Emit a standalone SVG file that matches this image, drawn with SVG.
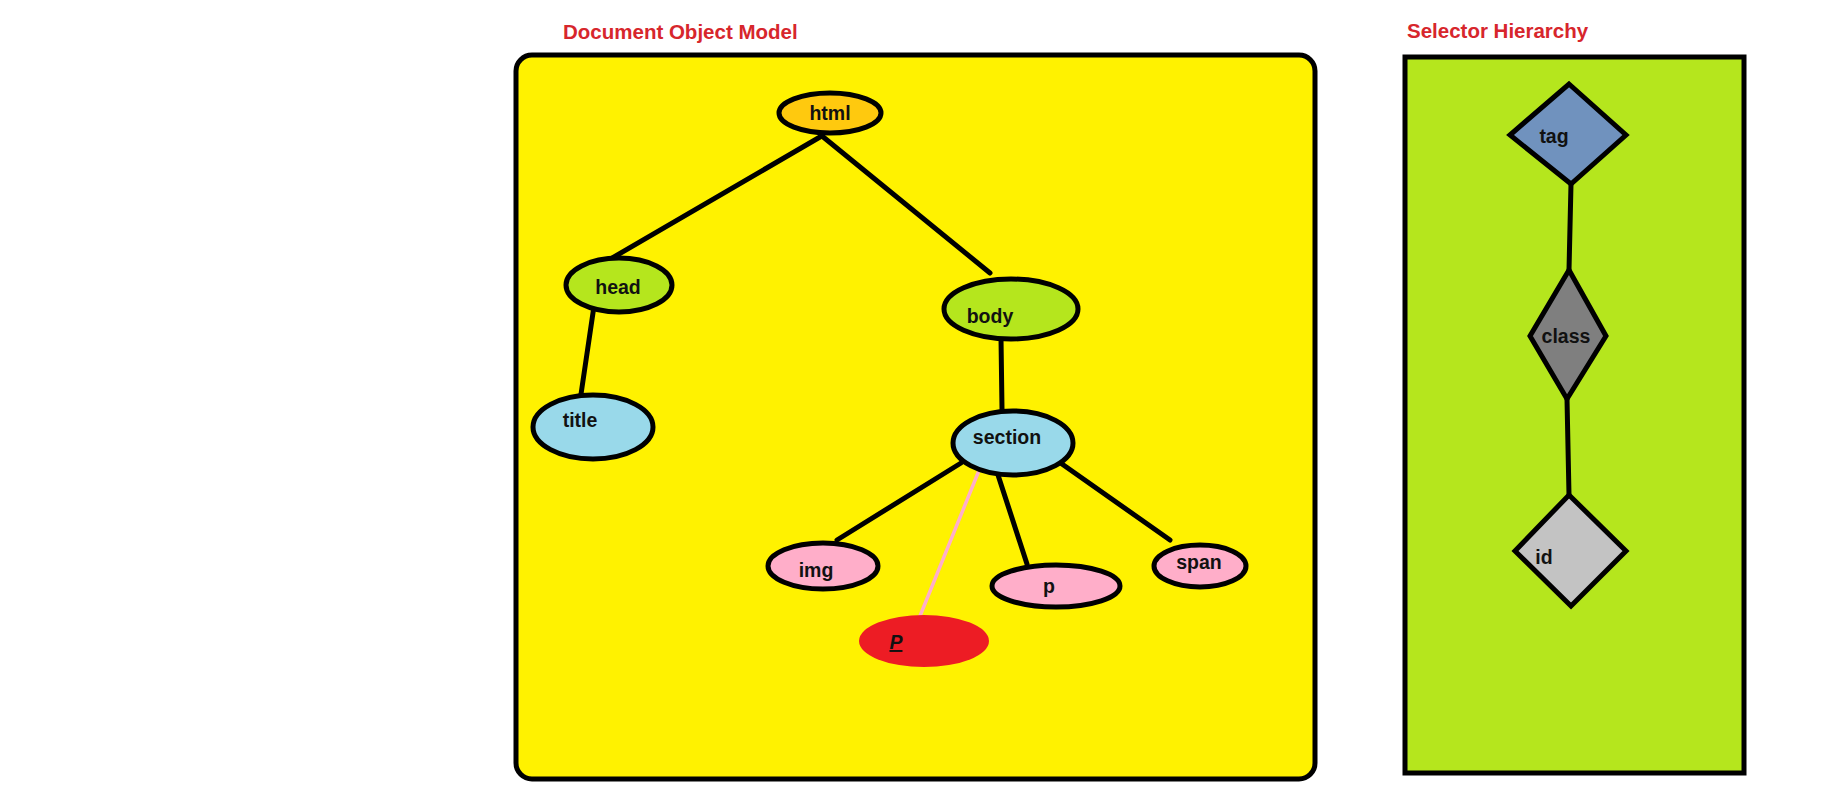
<svg xmlns="http://www.w3.org/2000/svg" width="1834" height="812" viewBox="0 0 1834 812">
<style>
.title{font-family:"Liberation Sans",Arial,sans-serif;font-weight:bold;font-size:20.5px;fill:#d7262c}
.lbl{font-family:"Liberation Sans",Arial,sans-serif;font-weight:bold;font-size:19.5px;fill:#111}
.nd{stroke:#000;stroke-width:5}
.edge{stroke:#000;stroke-width:5;stroke-linecap:round;fill:none}
</style>
<rect width="1834" height="812" fill="#fff"/>
<g id="dom-panel">
<text class="title" x="563" y="39">Document Object Model</text>
<rect x="516" y="55" width="799" height="724" rx="16" fill="#fff200" stroke="#000" stroke-width="5"/>
</g>
<g id="selector-panel">
<text class="title" x="1407" y="38">Selector Hierarchy</text>
<rect x="1405" y="57" width="339" height="716" fill="#b5e61d" stroke="#000" stroke-width="5"/>
</g>
<g id="connectors">
<line class="edge" x1="820" y1="137" x2="607" y2="261"/>
<line class="edge" x1="822" y1="136" x2="990" y2="273"/>
<line class="edge" x1="594" y1="306" x2="580" y2="401"/>
<line class="edge" x1="1001" y1="338" x2="1002" y2="409"/>
<line class="edge" x1="961" y1="463" x2="837" y2="540"/>
<line class="edge" x1="998" y1="475" x2="1027" y2="564"/>
<line class="edge" x1="1062" y1="464" x2="1170" y2="540"/>
<line x1="980" y1="468" x2="920" y2="616" stroke="#ffaec9" stroke-width="3.5" stroke-linecap="round"/>
<line class="edge" x1="1571" y1="184" x2="1569" y2="270"/>
<line class="edge" x1="1567" y1="399" x2="1569" y2="495"/>
</g>
<g id="node-html"><ellipse class="nd" cx="830" cy="113" rx="51" ry="20" fill="#ffc90e"/><text class="lbl" x="830" y="120" text-anchor="middle">html</text></g>
<g id="node-head"><ellipse class="nd" cx="619" cy="285" rx="53" ry="27" fill="#b5e61d"/><text class="lbl" x="618" y="294" text-anchor="middle">head</text></g>
<g id="node-body"><ellipse class="nd" cx="1011" cy="309" rx="67" ry="30" fill="#b5e61d"/><text class="lbl" x="990" y="323" text-anchor="middle">body</text></g>
<g id="node-title"><ellipse class="nd" cx="593" cy="427" rx="60" ry="32" fill="#99d9ea"/><text class="lbl" x="580" y="427" text-anchor="middle">title</text></g>
<g id="node-section"><ellipse class="nd" cx="1013" cy="443" rx="60" ry="32" fill="#99d9ea"/><text class="lbl" x="1007" y="444" text-anchor="middle">section</text></g>
<g id="node-img"><ellipse class="nd" cx="823" cy="566" rx="55" ry="23" fill="#ffaec9"/><text class="lbl" x="816" y="577" text-anchor="middle">img</text></g>
<g id="node-p"><ellipse class="nd" cx="1056" cy="586" rx="64" ry="21" fill="#ffaec9"/><text class="lbl" x="1049" y="593" text-anchor="middle">p</text></g>
<g id="node-span"><ellipse class="nd" cx="1200" cy="566" rx="46" ry="21" fill="#ffaec9"/><text class="lbl" x="1199" y="569" text-anchor="middle">span</text></g>
<g id="node-P"><ellipse cx="924" cy="641" rx="65" ry="26" fill="#ed1c24"/><text class="lbl" x="896" y="649" text-anchor="middle" font-style="italic" text-decoration="underline">P</text></g>
<g id="node-tag"><polygon class="nd" points="1569,84 1626,135 1571,184 1510,135" fill="#7092be"/><text class="lbl" x="1554" y="143" text-anchor="middle">tag</text></g>
<g id="node-class"><polygon class="nd" points="1569,270 1606,336 1567,399 1530,336" fill="#7f7f7f"/><text class="lbl" x="1566" y="343" text-anchor="middle">class</text></g>
<g id="node-id"><polygon class="nd" points="1569,495 1626,551 1571,606 1515,551" fill="#c3c3c3"/><text class="lbl" x="1544" y="564" text-anchor="middle">id</text></g>
</svg>
